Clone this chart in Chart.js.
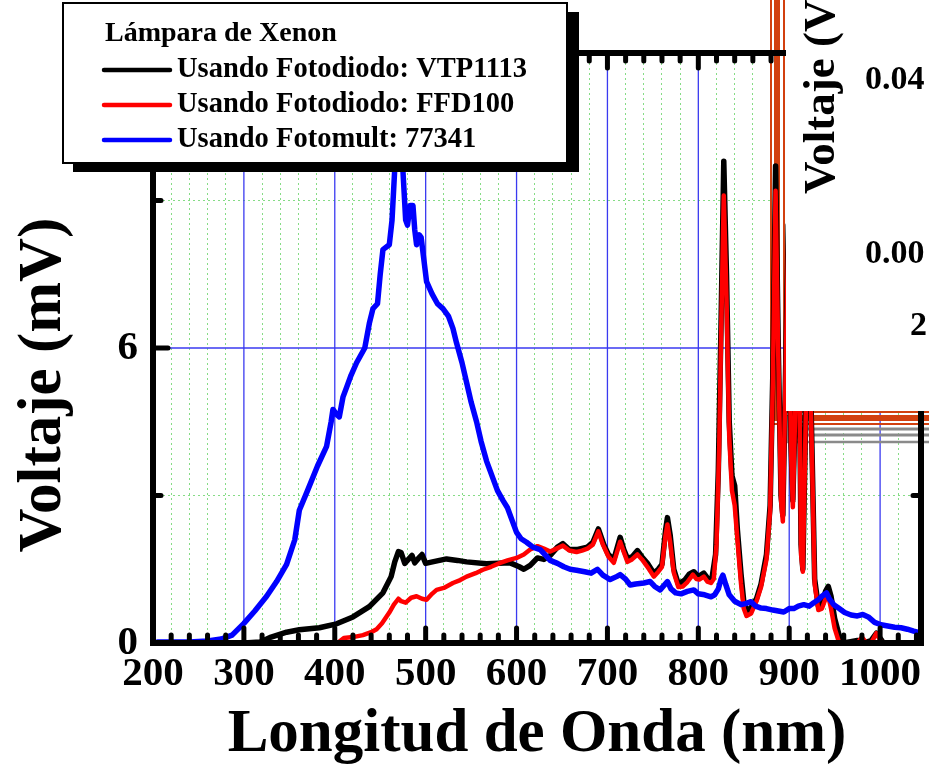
<!DOCTYPE html>
<html>
<head>
<meta charset="utf-8">
<script src="https://cdn.jsdelivr.net/npm/chart.js@4.4.1/dist/chart.umd.min.js"></script>
<style>
  html, body { margin: 0; padding: 0; background: #fff; }
  #wrap { width: 929px; height: 776px; }
</style>
</head>
<body>
<div id="wrap"><canvas id="grafico" width="929" height="776"></canvas></div>
<script>
// Lámpara de Xenon - espectros medidos con tres detectores
const vtpNm = [300,318,330,347,361,383,402,420,438,453,462,466,470,473,477,481,485,488,492,496,
  500,510,523,535,545,567,593,603,608,615,623,630,637,645,651,658,666,678,684,690,
  696,701,707,714,718,722,727,733,738,744,751,756,760,764,766,769,773,778,785,790,
  795,800,806,811,815,819,822,825,828,831,834,837,840,843,847,850,853,858,864,869,
  875,879,882,885,888,891,893,896,899,902,904,907,910,913,915,918,921,925,928,932,
  936,940,943,946,950,955,960,975,985,990,996,1002];
const vtpMv = [0,0.02,0.12,0.22,0.27,0.31,0.39,0.53,0.74,1.02,1.35,1.65,1.86,1.84,1.62,1.7,1.78,1.63,1.72,1.8,
  1.62,1.66,1.71,1.68,1.65,1.61,1.63,1.55,1.5,1.58,1.73,1.7,1.78,1.95,2.02,1.9,1.9,1.95,2.05,2.32,
  2.0,1.8,1.7,2.15,1.9,1.72,1.75,1.88,1.75,1.62,1.42,1.5,1.6,2.3,2.55,2.2,1.5,1.2,1.28,1.4,
  1.45,1.35,1.42,1.3,1.32,1.8,3.5,6.5,9.8,7.5,4.5,3.4,3.2,2.3,1.4,0.85,0.65,0.72,0.9,1.2,
  1.8,2.8,5.5,9.7,6.0,3.0,2.6,5.5,8.5,4.0,2.9,5.0,8.0,2.0,1.5,4.5,7.5,4.0,1.3,0.75,
  0.8,1.05,1.15,0.95,0.5,0.15,0,0.05,0.02,0.05,0.2,0.05];

const ffdNm = [403,410,420,431,440,446,452,460,465,470,473,478,484,490,496,501,507,512,520,530,
  538,545,555,563,572,582,590,600,608,615,623,630,637,644,651,658,666,672,678,684,
  690,695,701,707,714,718,722,727,733,738,744,751,756,760,764,766,769,773,778,783,
  788,794,798,801,806,810,814,817,820,823,825,828,831,834,837,840,843,847,850,853,
  858,864,869,875,879,882,885,888,891,893,896,899,902,904,907,910,913,915,918,921,
  925,928,932,936,940,943,946,950,955,968,975,980,985,990,996,1002];
const ffdMv = [0,0.1,0.12,0.16,0.22,0.28,0.4,0.62,0.78,0.9,0.85,0.82,0.92,0.95,0.9,0.88,1.0,1.08,1.12,1.22,
  1.28,1.35,1.42,1.49,1.55,1.63,1.68,1.73,1.8,1.9,1.97,1.92,1.86,1.92,1.98,1.88,1.85,1.88,1.92,2.0,
  2.27,2.0,1.76,1.63,2.06,1.85,1.65,1.7,1.8,1.7,1.55,1.35,1.45,1.55,2.2,2.41,2.05,1.43,1.14,1.15,
  1.24,1.39,1.3,1.29,1.35,1.25,1.22,1.3,2.0,4.0,6.2,9.1,7.0,4.2,3.1,2.8,2.1,1.2,0.7,0.55,
  0.6,0.85,1.14,1.7,2.7,5.3,9.2,5.8,2.9,2.47,5.5,8.3,3.9,2.76,5.0,7.8,1.8,1.45,4.4,7.3,
  3.8,1.2,0.67,0.7,0.9,0.95,0.7,0.3,0,0,0,0.12,0,0,0.2,0];

const pmtNm = [205,220,240,260,275,287,300,312,325,336,347,356,361,370,381,391,396,398,402,405,
  409,413,418,424,433,438,442,447,450,453,460,463,466,470,473,475,478,480,483,486,
  488,490,493,495,498,501,507,513,519,525,530,534,540,545,550,556,561,567,573,579,
  585,590,595,600,605,611,618,626,632,637,645,652,659,666,675,682,689,695,703,710,
  714,720,725,731,740,747,752,758,766,770,775,781,788,795,800,807,814,818,822,825,
  827,830,834,840,847,852,858,863,869,875,882,888,894,900,905,910,916,922,927,932,
  936,941,944,949,955,961,968,975,981,987,994,1001,1010,1016,1023,1030,1037,1045];
const pmtMv = [0.02,0.02,0.02,0.04,0.08,0.16,0.4,0.65,0.95,1.25,1.6,2.1,2.7,3.1,3.6,4.0,4.5,4.75,4.65,4.6,
  5.0,5.2,5.45,5.7,6.0,6.5,6.8,6.9,7.5,8.0,8.1,8.6,9.65,10.8,10.5,9.6,8.6,8.5,8.9,8.9,
  8.4,8.1,8.3,8.25,7.8,7.35,7.1,6.9,6.8,6.65,6.4,6.1,5.7,5.3,4.9,4.5,4.1,3.7,3.4,3.1,
  2.9,2.75,2.5,2.25,2.12,2.05,1.95,1.9,1.78,1.68,1.62,1.55,1.5,1.48,1.45,1.42,1.5,1.38,1.29,1.35,
  1.39,1.3,1.18,1.2,1.22,1.25,1.15,1.08,1.25,1.1,1.02,1.0,1.05,1.08,1.0,0.98,0.94,0.98,1.1,1.3,
  1.38,1.2,0.98,0.85,0.78,0.8,0.84,0.75,0.71,0.7,0.67,0.65,0.63,0.7,0.7,0.75,0.78,0.75,0.82,0.88,
  0.95,1.02,0.9,0.78,0.7,0.62,0.57,0.55,0.58,0.53,0.42,0.37,0.34,0.32,0.31,0.28,0.24,0.2];

const xTicks = [200, 300, 400, 500, 600, 700, 800, 900, 1000];
const yTicks = [0, 6, 12];

const serif = '"Liberation Serif", "Times New Roman", serif';
const pts = (xs, ys) => xs.map((v, i) => ({ x: v, y: ys[i] }));

function linea(ctx, x1, y1, x2, y2) {
  ctx.beginPath();
  ctx.moveTo(x1, y1);
  ctx.lineTo(x2, y2);
  ctx.stroke();
}

// rejilla mayor, marco grueso, ticks hacia dentro y el recuadro de la otra grafica
const marcoEjes = {
  id: 'marcoEjes',
  beforeDatasetsDraw(chart) {
    const { ctx, chartArea: a, scales: { x, y } } = chart;
    ctx.save();
    ctx.strokeStyle = '#3a3af0';
    ctx.lineWidth = 1.3;
    xTicks.forEach(v => { const px = x.getPixelForValue(v); linea(ctx, px, a.top, px, a.bottom); });
    yTicks.forEach(v => { const py = y.getPixelForValue(v); linea(ctx, a.left, py, a.right, py); });
    // lineas naranjas del marco seleccionado
    ctx.strokeStyle = '#d2400f';
    ctx.lineJoin = 'miter';
    [[771, 424, 2], [777, 418, 6], [784, 412, 2]].forEach(([lx, ly, w]) => {
      ctx.lineWidth = w;
      ctx.beginPath();
      ctx.moveTo(lx, 0);
      ctx.lineTo(lx, ly);
      ctx.lineTo(929, ly);
      ctx.stroke();
    });
    ctx.strokeStyle = '#8a8a8a';
    [[787, 442, 2.5], [792, 435, 3], [797, 429, 3]].forEach(([lx, ly, w]) => {
      ctx.lineWidth = w;
      ctx.beginPath();
      ctx.moveTo(lx, 416);
      ctx.lineTo(lx, ly);
      ctx.lineTo(929, ly);
      ctx.stroke();
    });
    ctx.restore();
  },
  afterDatasetsDraw(chart) {
    const { ctx, chartArea: a, scales: { x, y } } = chart;
    ctx.save();
    ctx.strokeStyle = '#000';
    ctx.lineWidth = 6;
    ctx.strokeRect(a.left, a.top, a.right - a.left, a.bottom - a.top);
    ctx.lineWidth = 5;
    ctx.lineCap = 'round';
    for (let v = 200; v <= 1040; v += 20) {
      const px = x.getPixelForValue(v);
      const len = v % 100 === 0 ? 15 : 8;
      linea(ctx, px, a.bottom, px, a.bottom - len);
      linea(ctx, px, a.top, px, a.top + len);
    }
    for (let v = 3; v < 12; v += 3) {
      const py = y.getPixelForValue(v);
      const len = v % 6 === 0 ? 15 : 8;
      linea(ctx, a.left, py, a.left + len, py);
      linea(ctx, a.right, py, a.right - len, py);
    }
    // recuadro blanco de la grafica superpuesta
    ctx.fillStyle = '#fff';
    ctx.fillRect(786, 0, 143, 411);
    ctx.fillStyle = '#000';
    ctx.font = 'bold 34px ' + serif;
    ctx.textBaseline = 'middle';
    ctx.textAlign = 'left';
    ctx.fillText('0.04', 865, 80);
    ctx.fillText('0.00', 865, 254);
    ctx.fillText('2', 910, 326);
    ctx.translate(822, 194);
    ctx.rotate(-Math.PI / 2);
    ctx.font = 'bold 45px ' + serif;
    ctx.fillText('Voltaje (V)', 0, 0);
    ctx.restore();

    // titulo del eje y
    ctx.save();
    ctx.translate(44, 385);
    ctx.rotate(-Math.PI / 2);
    ctx.fillStyle = '#000';
    ctx.font = 'bold 61px ' + serif;
    ctx.textAlign = 'center';
    ctx.textBaseline = 'middle';
    ctx.fillText('Voltaje (mV)', 0, 0);
    ctx.restore();
  },
  afterDraw(chart) {
    const ctx = chart.ctx;
    ctx.save();
    ctx.fillStyle = '#000';
    ctx.fillRect(73, 12, 506, 160);
    ctx.fillStyle = '#fff';
    ctx.fillRect(63, 3, 504, 160);
    ctx.strokeStyle = '#000';
    ctx.lineWidth = 2;
    ctx.strokeRect(63, 3, 504, 160);
    ctx.fillStyle = '#000';
    ctx.textBaseline = 'middle';
    ctx.font = 'bold 28px ' + serif;
    ctx.fillText('Lámpara de Xenon', 105, 34);
    const filas = [70, 105, 140];
    chart.data.datasets.forEach((ds, i) => {
      ctx.strokeStyle = ds.borderColor;
      ctx.lineWidth = 4.5;
      ctx.lineCap = 'round';
      linea(ctx, 104, filas[i], 170, filas[i]);
      ctx.fillStyle = '#000';
      ctx.font = 'bold 28.5px ' + serif;
      ctx.fillText(ds.label, 177, filas[i]);
    });
    ctx.restore();
  }
};

new Chart(document.getElementById('grafico'), {
  type: 'line',
  data: {
    datasets: [
      { label: 'Usando Fotodiodo: VTP1113', data: pts(vtpNm, vtpMv), borderColor: '#000000', borderWidth: 5.5, order: 3 },
      { label: 'Usando Fotodiodo: FFD100', data: pts(ffdNm, ffdMv), borderColor: '#ff0000', borderWidth: 4.5, order: 2 },
      { label: 'Usando Fotomult: 77341', data: pts(pmtNm, pmtMv), borderColor: '#0000ff', borderWidth: 5.5, order: 1 }
    ]
  },
  options: {
    responsive: false,
    animation: false,
    layout: { padding: { top: 53, right: 8, left: 0, bottom: 0 } },
    elements: {
      point: { radius: 0 },
      line: { tension: 0, borderJoinStyle: 'round', borderCapStyle: 'round' }
    },
    plugins: { legend: { display: false }, tooltip: { enabled: false } },
    scales: {
      x: {
        type: 'linear',
        min: 200,
        max: 1045,
        afterFit: s => { s.height = 133; },
        ticks: {
          stepSize: 20,
          autoSkip: false,
          maxRotation: 0,
          padding: 7,
          color: '#000',
          font: { family: serif, size: 41, weight: 'bold' },
          callback: v => (xTicks.includes(v) ? String(v) : '')
        },
        grid: {
          drawTicks: false,
          lineWidth: 1,
          color: c => (c.tick && c.tick.value % 100 === 0 ? 'rgba(0,0,0,0)' : '#86dc86')
        },
        border: { display: false, dash: [2, 3] },
        title: {
          display: true,
          text: 'Longitud de Onda (nm)',
          color: '#000',
          font: { family: serif, size: 61, weight: 'bold' },
          padding: { top: 0, bottom: 4 }
        }
      },
      y: {
        min: 0,
        max: 12,
        afterFit: s => { s.width = 153; },
        ticks: {
          stepSize: 3,
          padding: 15,
          color: '#000',
          font: { family: serif, size: 41, weight: 'bold' },
          callback: v => (yTicks.includes(v) ? String(v) : '')
        },
        grid: {
          drawTicks: false,
          lineWidth: 1,
          color: c => (c.tick && c.tick.value % 6 === 0 ? 'rgba(0,0,0,0)' : '#86dc86')
        },
        border: { display: false, dash: [2, 3] }
      }
    }
  },
  plugins: [marcoEjes]
});
</script>
</body>
</html>
